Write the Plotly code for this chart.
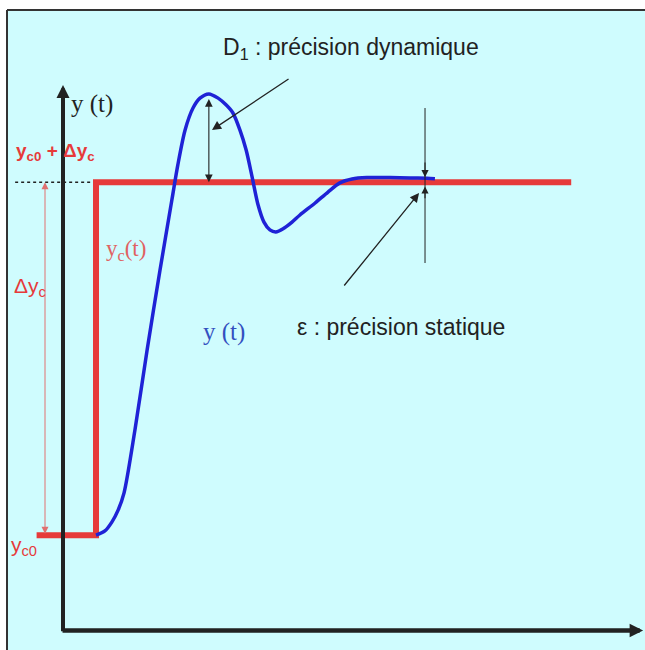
import plotly.graph_objects as go

# --- setpoint y_c(t): step from y_c0 to y_c0 + Δy_c at t_step ---
yc0 = 0.27
dyc = 1.0
t_step = 1.0
t_start = -0.8
t_end = 15.4
t_set = [t_start, t_step, t_step, t_end]
y_set = [yc0, yc0, yc0 + dyc, yc0 + dyc]

# --- measured response y(t) ---
t_resp = [1.0, 1.27, 1.48, 1.67, 1.85, 2.18, 2.55, 2.94, 3.30, 3.48, 3.70, 3.94,
          4.15, 4.42, 4.70, 4.94, 5.15, 5.36, 5.55, 5.73, 5.91, 6.09, 6.27, 6.45,
          6.67, 6.94, 7.18, 7.64, 8.03, 8.39, 8.76, 9.21, 9.91, 10.52, 11.03, 11.27]
y_resp = [0.27, 0.282, 0.307, 0.341, 0.39, 0.568, 0.795, 1.021, 1.220, 1.319, 1.418, 1.480,
          1.508, 1.520, 1.508, 1.489, 1.466, 1.418, 1.361, 1.285, 1.206, 1.157, 1.135, 1.129,
          1.138, 1.157, 1.177, 1.211, 1.242, 1.268, 1.279, 1.283, 1.283, 1.282, 1.281, 1.280]

RED = "#E63a3a"
BLUE = "#1f22d6"
BG = "#cffcfe"
SANS = "Liberation Sans, Arial, sans-serif"
SERIF = "Liberation Serif, Times New Roman, serif"

fig = go.Figure()

# dotted guide at the final setpoint level
fig.add_trace(go.Scatter(x=[-1.45, t_step], y=[yc0 + dyc, yc0 + dyc], mode="lines",
                         line=dict(color="#222", width=1.5, dash="dot"), hoverinfo="skip"))
# setpoint
fig.add_trace(go.Scatter(x=t_set, y=y_set, mode="lines",
                         line=dict(color=RED, width=6), hoverinfo="skip"))
# response
fig.add_trace(go.Scatter(x=t_resp, y=y_resp, mode="lines",
                         line=dict(color=BLUE, width=3.5, shape="spline", smoothing=0.8),
                         hoverinfo="skip"))

t_peak = t_resp[y_resp.index(max(y_resp))]
y_peak = max(y_resp)
t_eps = 10.97

shapes = [
    # panel background and frame
    dict(type="rect", xref="paper", yref="paper", x0=7 / 645, x1=1.01, y0=-0.01, y1=1 - 10 / 650,
         fillcolor=BG, line_width=0, layer="below"),
    dict(type="line", xref="paper", yref="paper", x0=7 / 645, x1=1.01, y0=1 - 10 / 650, y1=1 - 10 / 650,
         line=dict(color="#333", width=2)),
    dict(type="line", xref="paper", yref="paper", x0=7 / 645, x1=7 / 645, y0=-0.01, y1=1 - 10 / 650,
         line=dict(color="#333", width=2)),
    # vertical reference line for the static error
    dict(type="line", x0=t_eps, x1=t_eps, y0=1.041, y1=1.480, line=dict(color="#222", width=1)),
]

annotations = []


def arrow(x, y, ax, ay, width=1.2, size=1.3, head=2, color="#222", side="end"):
    annotations.append(dict(x=x, y=y, ax=ax, ay=ay, xref="x", yref="y", axref="x", ayref="y",
                            text="", showarrow=True, arrowhead=head, startarrowhead=head,
                            arrowsize=size, startarrowsize=size, arrowwidth=width,
                            arrowcolor=color, arrowside=side, standoff=0, startstandoff=0))


def label(x, y, txt, color="#222", size=20, family=SANS):
    annotations.append(dict(x=x, y=y, xref="x", yref="y", text=txt, showarrow=False,
                            font=dict(color=color, size=size, family=family),
                            xanchor="center", yanchor="middle"))


# axes with arrow tips
arrow(0, 1.545, 0, -0.006, width=4, size=0.65)
arrow(17.58, 0, -0.06, 0, width=4.5, size=0.6)

# Δy_c span
arrow(-0.545, yc0 + dyc, -0.545, yc0, width=1, size=1.4, color="#e07070", side="end+start")

# D1: overshoot
arrow(t_peak, yc0 + dyc, t_peak, y_peak - 0.01, width=1.1, size=1.4, side="end+start")
arrow(4.515, 1.418, 6.88, 1.565, width=1.3, size=1.4)

# ε: static error
arrow(t_eps, y_resp[-1] + 0.004, t_eps, 1.33, width=1.1, size=1.3)
arrow(t_eps, yc0 + dyc - 0.012, t_eps, 1.22, width=1.1, size=1.3)
arrow(10.79, 1.239, 8.485, 0.973, width=1.3, size=1.4)

label(8.727, 1.650, "D<sub>1</sub> : précision dynamique", size=23)
label(10.24, 0.860, "ε : précision statique", size=23)
label(0.88, 1.492, "y (t)", size=25, family=SERIF)
label(-0.24, 1.356, "<b>y<sub>c0</sub> + Δy<sub>c</sub></b>", color=RED, size=19)
label(-1.0, 0.973, "Δy<sub>c</sub>", color=RED, size=21)
label(-1.18, 0.239, "y<sub>c0</sub>", color=RED, size=21)
label(1.91, 1.078, "y<sub>c</sub>(t)", color="#e06262", size=23, family=SERIF)
label(4.88, 0.846, "y (t)", color="#3350c0", size=25, family=SERIF)

fig.update_layout(
    width=645, height=650, margin=dict(l=0, r=0, t=0, b=0),
    paper_bgcolor="white", plot_bgcolor="rgba(0,0,0,0)",
    showlegend=False, shapes=shapes, annotations=annotations,
    xaxis=dict(range=[-1.909, 17.636], visible=False, fixedrange=True),
    yaxis=dict(range=[-0.0552, 1.786], visible=False, fixedrange=True),
)

fig.write_html("out.html")
